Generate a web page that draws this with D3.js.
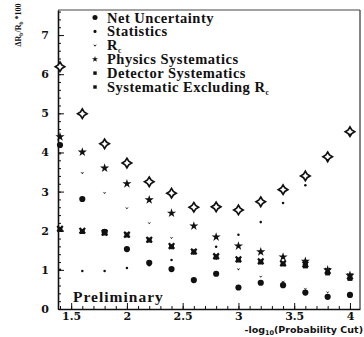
<!DOCTYPE html>
<html>
<head>
<meta charset="utf-8">
<script src="https://cdn.jsdelivr.net/npm/d3@7"></script>
<style>
  body { margin: 0; background: #fff; }
</style>
</head>
<body>
<div id="chart"></div>
<script>
// values, one entry per cut value
var cuts      = [1.4, 1.6, 1.8, 2.0, 2.2, 2.4, 2.6, 2.8, 3.0, 3.2, 3.4, 3.6, 3.8, 4.0];
var total     = [6.19, 4.99, 4.22, 3.73, 3.25, 2.96, 2.60, 2.61, 2.53, 2.74, 3.05, 3.40, 3.89, 4.53];
var netUnc    = [4.19, 2.81, 1.97, 1.53, 1.18, 1.02, 0.74, 0.90, 0.55, 0.67, 0.61, 0.42, 0.31, 0.36];
var stats     = [1.00, 0.97, 0.97, 1.05, 1.12, 1.25, 1.42, 1.59, 1.90, 2.22, 2.71, 3.16, 3.80, 4.45];
var rcSyst    = [3.97, 3.48, 2.97, 2.58, 2.20, 1.82, 1.50, 1.28, 1.02, 0.83, 0.70, 0.52, 0.43, 0.38];
var physSyst  = [4.40, 4.01, 3.60, 3.20, 2.79, 2.45, 2.12, 1.84, 1.61, 1.46, 1.33, 1.22, 1.00, 0.86];
var detSyst   = [2.03, 1.98, 1.94, 1.89, 1.76, 1.59, 1.46, 1.33, 1.25, 1.20, 1.15, 1.10, 0.92, 0.78];
var systNoRc  = [2.05, 2.00, 1.95, 1.90, 1.77, 1.61, 1.47, 1.35, 1.27, 1.22, 1.17, 1.14, 0.97, 0.83];

var xTicks = [1.5, 2, 2.5, 3, 3.5, 4];
var yTicks = [0, 1, 2, 3, 4, 5, 6, 7];

var W = 364, H = 337;
var ink = "#111";
var serif = "'DejaVu Serif', serif";
var times = "'Liberation Serif', serif";

var svg = d3.select("#chart")
    .append("svg")
    .attr("width", W)
    .attr("height", H);

var x = d3.scaleLinear().domain([1.382, 4.09]).range([58, 360]);
var y = d3.scaleLinear().domain([0, 7.64]).range([309, 10]);

// open four pointed marker
var symbolSparkle = {
  draw: function(ctx, size) {
    var r = Math.sqrt(size) * 0.75, k = r * 0.38;
    ctx.moveTo(0, -r); ctx.lineTo(k, -k); ctx.lineTo(r, 0); ctx.lineTo(k, k);
    ctx.lineTo(0, r); ctx.lineTo(-k, k); ctx.lineTo(-r, 0); ctx.lineTo(-k, -k);
    ctx.closePath();
  }
};
// small "v" marker
var symbolVee = {
  draw: function(ctx, size) {
    var r = Math.sqrt(size) * 0.6;
    ctx.moveTo(-r, -r * 0.6); ctx.lineTo(0, r * 0.7); ctx.lineTo(r, -r * 0.6);
    ctx.lineTo(0, 0); ctx.closePath();
  }
};

// frame (top and right)
svg.append("line")
    .attr("x1", x.range()[0]).attr("x2", x.range()[1])
    .attr("y1", y.range()[1]).attr("y2", y.range()[1])
    .attr("stroke", "#444").attr("stroke-width", 1);
svg.append("line")
    .attr("x1", x.range()[1]).attr("x2", x.range()[1])
    .attr("y1", y.range()[0]).attr("y2", y.range()[1])
    .attr("stroke", "#333").attr("stroke-width", 1.2);

// x axis
var xAxis = svg.append("g")
    .attr("transform", "translate(0," + y.range()[0] + ")")
    .call(d3.axisBottom(x).tickValues(xTicks).tickSize(-6).tickSizeOuter(0).tickPadding(3)
          .tickFormat(function(d) { return String(d); }));
svg.append("g")
    .attr("transform", "translate(0," + y.range()[0] + ")")
    .call(d3.axisBottom(x).tickValues(d3.range(14, 41).map(function(d) { return d / 10; }))
          .tickSize(-3).tickSizeOuter(0).tickFormat(""))
    .select(".domain").remove();

// y axis
var yAxis = svg.append("g")
    .attr("transform", "translate(" + x.range()[0] + ",0)")
    .call(d3.axisLeft(y).tickValues(yTicks).tickSize(-6).tickSizeOuter(0).tickPadding(9));
svg.append("g")
    .attr("transform", "translate(" + x.range()[0] + ",0)")
    .call(d3.axisLeft(y).tickValues(d3.range(0, 39).map(function(d) { return d / 5; }))
          .tickSize(-3).tickSizeOuter(0).tickFormat(""))
    .select(".domain").remove();

svg.selectAll(".domain").attr("stroke", ink).attr("stroke-width", 1.6);
svg.selectAll(".tick line").attr("stroke", ink).attr("stroke-width", 1);
[xAxis, yAxis].forEach(function(g) {
  g.selectAll("text")
    .attr("font-family", serif)
    .attr("font-weight", "bold")
    .attr("font-size", 11)
    .attr("fill", ink);
});

// series
var series = [
  {vals: total,    type: symbolSparkle,     size: 40, fill: "#fff", stroke: ink, sw: 1.7},
  {vals: stats,    type: d3.symbolCircle,   size: 5,  fill: ink,    stroke: "none", sw: 0},
  {vals: rcSyst,   type: symbolVee,         size: 10, fill: ink,    stroke: "none", sw: 0},
  {vals: detSyst,  type: d3.symbolSquare,   size: 24, fill: ink,    stroke: "none", sw: 0},
  {vals: systNoRc, type: d3.symbolTimes,    size: 22, fill: "none", stroke: ink, sw: 2.2},
  {vals: physSyst, type: d3.symbolStar,     size: 26, fill: ink,    stroke: "none", sw: 0},
  {vals: netUnc,   type: d3.symbolCircle,   size: 30, fill: ink,    stroke: "none", sw: 0}
];

series.forEach(function(s) {
  svg.append("g")
    .selectAll("path")
    .data(cuts.map(function(c, i) { return [c, s.vals[i]]; }))
    .join("path")
      .attr("transform", function(d) { return "translate(" + x(d[0]) + "," + y(d[1]) + ")"; })
      .attr("d", d3.symbol().type(s.type).size(s.size))
      .attr("fill", s.fill)
      .attr("stroke", s.stroke)
      .attr("stroke-width", s.sw);
});

// legend
var legendItems = [
  {label: "Net Uncertainty",        sub: "",  type: d3.symbolCircle, size: 20},
  {label: "Statistics",             sub: "",  type: d3.symbolCircle, size: 8},
  {label: "R",                      sub: "c", type: symbolVee,       size: 10},
  {label: "Physics Systematics",    sub: "",  type: d3.symbolStar,   size: 12},
  {label: "Detector Systematics",   sub: "",  type: d3.symbolSquare, size: 12},
  {label: "Systematic Excluding R", sub: "c", type: d3.symbolSquare, size: 12}
];

var legend = svg.append("g");
legendItems.forEach(function(item, i) {
  var cy = 17.5 + i * 13.9;
  legend.append("path")
    .attr("transform", "translate(95," + cy + ")")
    .attr("d", d3.symbol().type(item.type).size(item.size))
    .attr("fill", ink);
  var t = legend.append("text")
    .attr("x", 107)
    .attr("y", cy + 5)
    .attr("font-family", times)
    .attr("font-weight", "bold")
    .attr("font-size", 14.5)
    .attr("letter-spacing", 0.5)
    .attr("fill", ink)
    .text(item.label);
  if (item.sub) {
    t.append("tspan").attr("font-size", 7.5).attr("dy", 2.5).text(item.sub);
  }
});

// annotation
svg.append("text")
    .attr("x", 73)
    .attr("y", 302)
    .attr("font-family", times)
    .attr("font-weight", "bold")
    .attr("font-size", 15.5)
    .attr("letter-spacing", 1)
    .attr("fill", ink)
    .text("Preliminary");

// axis titles
var xt = svg.append("text")
    .attr("x", 363)
    .attr("y", 333)
    .attr("text-anchor", "end")
    .attr("font-family", "'DejaVu Sans', sans-serif")
    .attr("font-weight", "bold")
    .attr("font-size", 9.5)
    .attr("fill", ink);
xt.append("tspan").text("-log");
xt.append("tspan").attr("font-size", 6.5).attr("dy", 2).text("10");
xt.append("tspan").attr("dy", -2).text("(Probability Cut)");

var yt = svg.append("text")
    .attr("transform", "translate(21,25) rotate(-90)")
    .attr("text-anchor", "middle")
    .attr("font-family", times)
    .attr("font-weight", "bold")
    .attr("font-size", 8)
    .attr("fill", ink);
yt.append("tspan").text("\u0394R");
yt.append("tspan").attr("font-size", 5.5).attr("dy", 2).text("b");
yt.append("tspan").attr("dy", -2).text("/R");
yt.append("tspan").attr("font-size", 5.5).attr("dy", 2).text("b");
yt.append("tspan").attr("dy", -2).text(" *100");
</script>
</body>
</html>
